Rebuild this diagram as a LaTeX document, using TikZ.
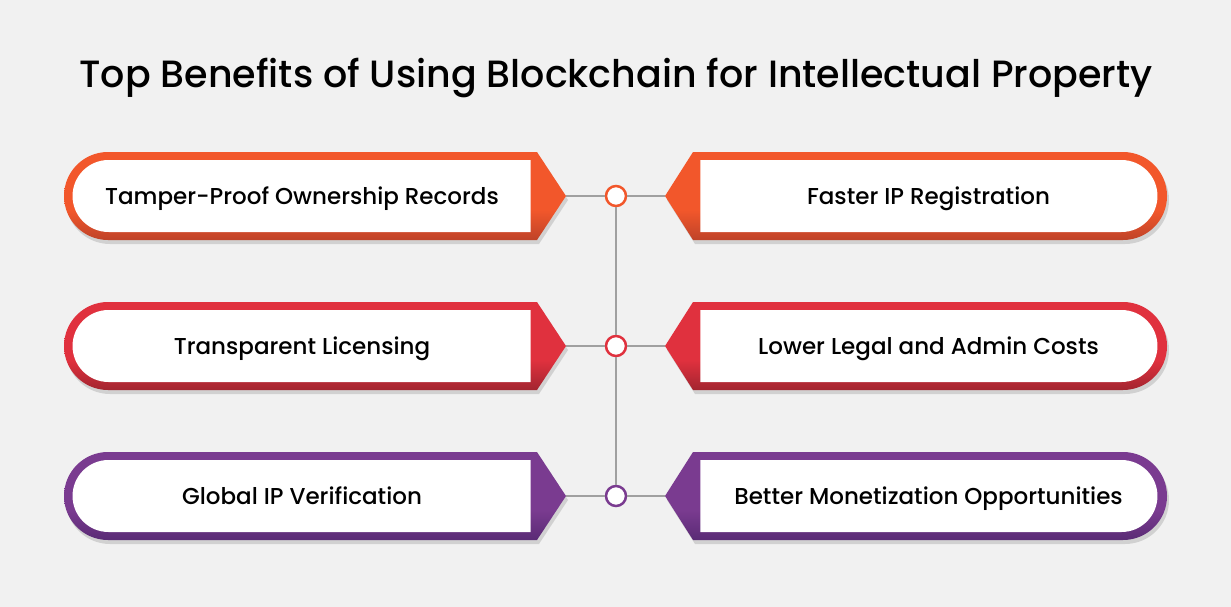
\documentclass[tikz,border=0pt]{standalone}
\usepackage{fontspec}
\setmainfont{Poppins}[BoldFont={Poppins Medium}]
\usetikzlibrary{positioning, shapes.misc, shadows}

\definecolor{bgGrey}{HTML}{F1F1F1}
\definecolor{lineGrey}{HTML}{A0A0A0}
\definecolor{orng}{HTML}{F2572B}
\definecolor{orngD}{HTML}{BF4329}
\definecolor{redc}{HTML}{E0313E}
\definecolor{redcD}{HTML}{A32530}
\definecolor{purp}{HTML}{7A3B90}
\definecolor{purpD}{HTML}{5A2B75}

% Farbverlauf: oben flach, unten dunkler
\pgfdeclareverticalshading[tcol,bcol]{band}{100bp}{color(0bp)=(bcol); color(25bp)=(bcol); color(42bp)=(tcol); color(100bp)=(tcol)}

\begin{document}
\begin{tikzpicture}[
    x=1pt, y=-1pt,
    boxshadow/.style={drop shadow={shadow xshift=2pt, shadow yshift=-4pt, opacity=0.13, fill=black}},
    frame/.style={shading=band, boxshadow},
    innerL/.style={shape=rounded rectangle, rounded rectangle right arc=none, fill=white,
      minimum width=458pt, minimum height=72pt, inner sep=0pt,
      text height=16pt, text depth=0pt, font=\fontsize{23}{27}\selectfont\bfseries},
    innerR/.style={shape=rounded rectangle, rounded rectangle left arc=none, fill=white,
      minimum width=457pt, minimum height=72pt, inner sep=0pt,
      text height=16pt, text depth=0pt, font=\fontsize{23}{27}\selectfont\bfseries},
    hub/.style={circle, draw=#1, line width=2.5pt, fill=white, minimum size=20pt, inner sep=0pt},
    link/.style={draw=lineGrey, line width=1.8pt}
]
    % Hintergrund
    \fill[bgGrey] (0,0) rectangle (1231,607);
    \useasboundingbox (0,0) rectangle (1231,607);

    % Titel
    \node[anchor=base] (title) at (616,88) {\fontsize{38}{44}\selectfont\bfseries Top Benefits of Using Blockchain for Intellectual Property};

    % Zeilen
    \foreach \row/\yy/\col/\dark/\ltext/\rtext in {
        1/196/orng/orngD/Tamper-Proof Ownership Records/Faster IP Registration,
        2/346/redc/redcD/Transparent Licensing/Lower Legal and Admin Costs,
        3/496/purp/purpD/Global IP Verification/Better Monetization Opportunities} {
      \colorlet{tcol}{\col}
      \colorlet{bcol}{\dark}
      % linke Box mit Spitze
      \shade[frame] (300,\yy-44) [sharp corners] -- (537,\yy-44) -- (566,\yy) -- (537,\yy+44)
        -- (300,\yy+44) [rounded corners=44pt] -- (64,\yy+44) -- (64,\yy-44) -- cycle;
      \node[innerL] (boxL\row) at (302,\yy) {\ltext};
      % rechte Box mit Spitze
      \shade[frame] (930,\yy-44) [sharp corners] -- (693,\yy-44) -- (665,\yy) -- (693,\yy+44)
        -- (930,\yy+44) [rounded corners=44pt] -- (1167,\yy+44) -- (1167,\yy-44) -- cycle;
      \node[innerR] (boxR\row) at (928.5,\yy) {\rtext};
      % Verbinder
      \coordinate (tipL\row) at (566,\yy);
      \coordinate (tipR\row) at (665,\yy);
      \node[hub=\col] (hub\row) at (616,\yy) {};
      \draw[link] (tipL\row) -- (hub\row);
      \draw[link] (hub\row) -- (tipR\row);
    }
    \draw[link] (hub1) -- (hub2);
    \draw[link] (hub2) -- (hub3);
\end{tikzpicture}
\end{document}
